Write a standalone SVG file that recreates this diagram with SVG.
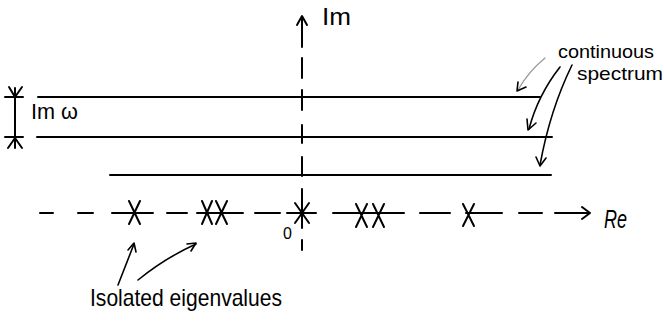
<svg xmlns="http://www.w3.org/2000/svg" width="664" height="322" viewBox="0 0 664 322">
<style>
.ln{stroke:#000;stroke-width:2;fill:none;stroke-linecap:round;stroke-linejoin:round}
.thin{stroke:#000;stroke-width:1.6;fill:none;stroke-linecap:round;stroke-linejoin:round}
.gr{stroke:#999;stroke-width:1.2;fill:none;stroke-linecap:round}
.t{font-family:"Liberation Sans",Arial,sans-serif;fill:#000}
</style>
<rect width="664" height="322" fill="#fff"/>
<g id="spectrum-lines">
<path class="ln" d="M38 97 H540 M5 97 H23 M37 137 H552 M5 137 H23 M110 175 H551"/>
</g>
<g id="im-axis">
<path class="ln" d="M302 47 V17 M297 25 L302 16 L307 25 M302 58 V78 M302 90 V110 M302 125 V143 M302 157 V176 M302 189 V205 M302 240 V250"/>
<text class="t" x="322" y="25" font-size="24" textLength="29" lengthAdjust="spacingAndGlyphs">Im</text>
</g>
<g id="re-axis">
<path class="ln" d="M40 213 H53 M78 213 H93 M112 213 H153 M167 213 H187 M197 213 H243 M255 213 H280 M287 213 H316 M333 213 H404 M420 213 H450 M466 213 H502 M519 213 H542 M555 213 H589 M582 207 L590 213 L582 219"/>
<text class="t" x="604" y="228" font-size="26" font-style="italic" textLength="23" lengthAdjust="spacingAndGlyphs">Re</text>
<text class="t" x="283" y="239" font-size="16">0</text>
</g>
<g id="width-dimension">
<path class="ln" d="M15 88 V148 M9 87 L15 97 L22 87 M8 148 L15 138 L22 148"/>
<text class="t" x="31" y="119" font-size="22" textLength="47" lengthAdjust="spacingAndGlyphs">Im ω</text>
</g>
<g id="eigenvalues">
<path class="ln" d="M129 201 L140 224 M140 201 L129 224"/>
<path class="ln" d="M202 201 L212 224 M212 201 L202 224 M216 201 L227 224 M227 201 L216 224"/>
<path class="ln" d="M295 203 L309 223 M309 203 L295 223 M302 200 V228"/>
<path class="ln" d="M356 204 L367 227 M367 204 L356 227 M373 204 L384 227 M384 204 L373 227"/>
<path class="ln" d="M463 204 L474 226 M474 204 L463 226"/>
</g>
<g id="isolated-label">
<text class="t" x="90" y="306" font-size="24" textLength="192" lengthAdjust="spacingAndGlyphs">Isolated eigenvalues</text>
</g>
<g id="continuous-label">
<text class="t" x="558" y="58" font-size="19" textLength="96" lengthAdjust="spacingAndGlyphs">continuous</text>
<text class="t" x="577" y="80" font-size="19" textLength="86" lengthAdjust="spacingAndGlyphs">spectrum</text>
</g>
<g id="connectors">
<path class="gr" d="M545 58 Q528 72 518 90"/>
<path class="thin" d="M518 82 L517 91 L526 87"/>
<path class="thin" d="M560 67 Q538 95 529 129"/>
<path class="thin" d="M527 119 L528 130 L536 123"/>
<path class="thin" d="M572 65 Q550 110 540 165"/>
<path class="thin" d="M536 157 L540 166 L546 158"/>
<path class="thin" d="M118 285 L134 244"/>
<path class="thin" d="M128 250 L134 243 L136 252"/>
<path class="thin" d="M138 280 Q165 258 196 244"/>
<path class="thin" d="M187 244 L196 243 L191 251"/>
</g>
</svg>
